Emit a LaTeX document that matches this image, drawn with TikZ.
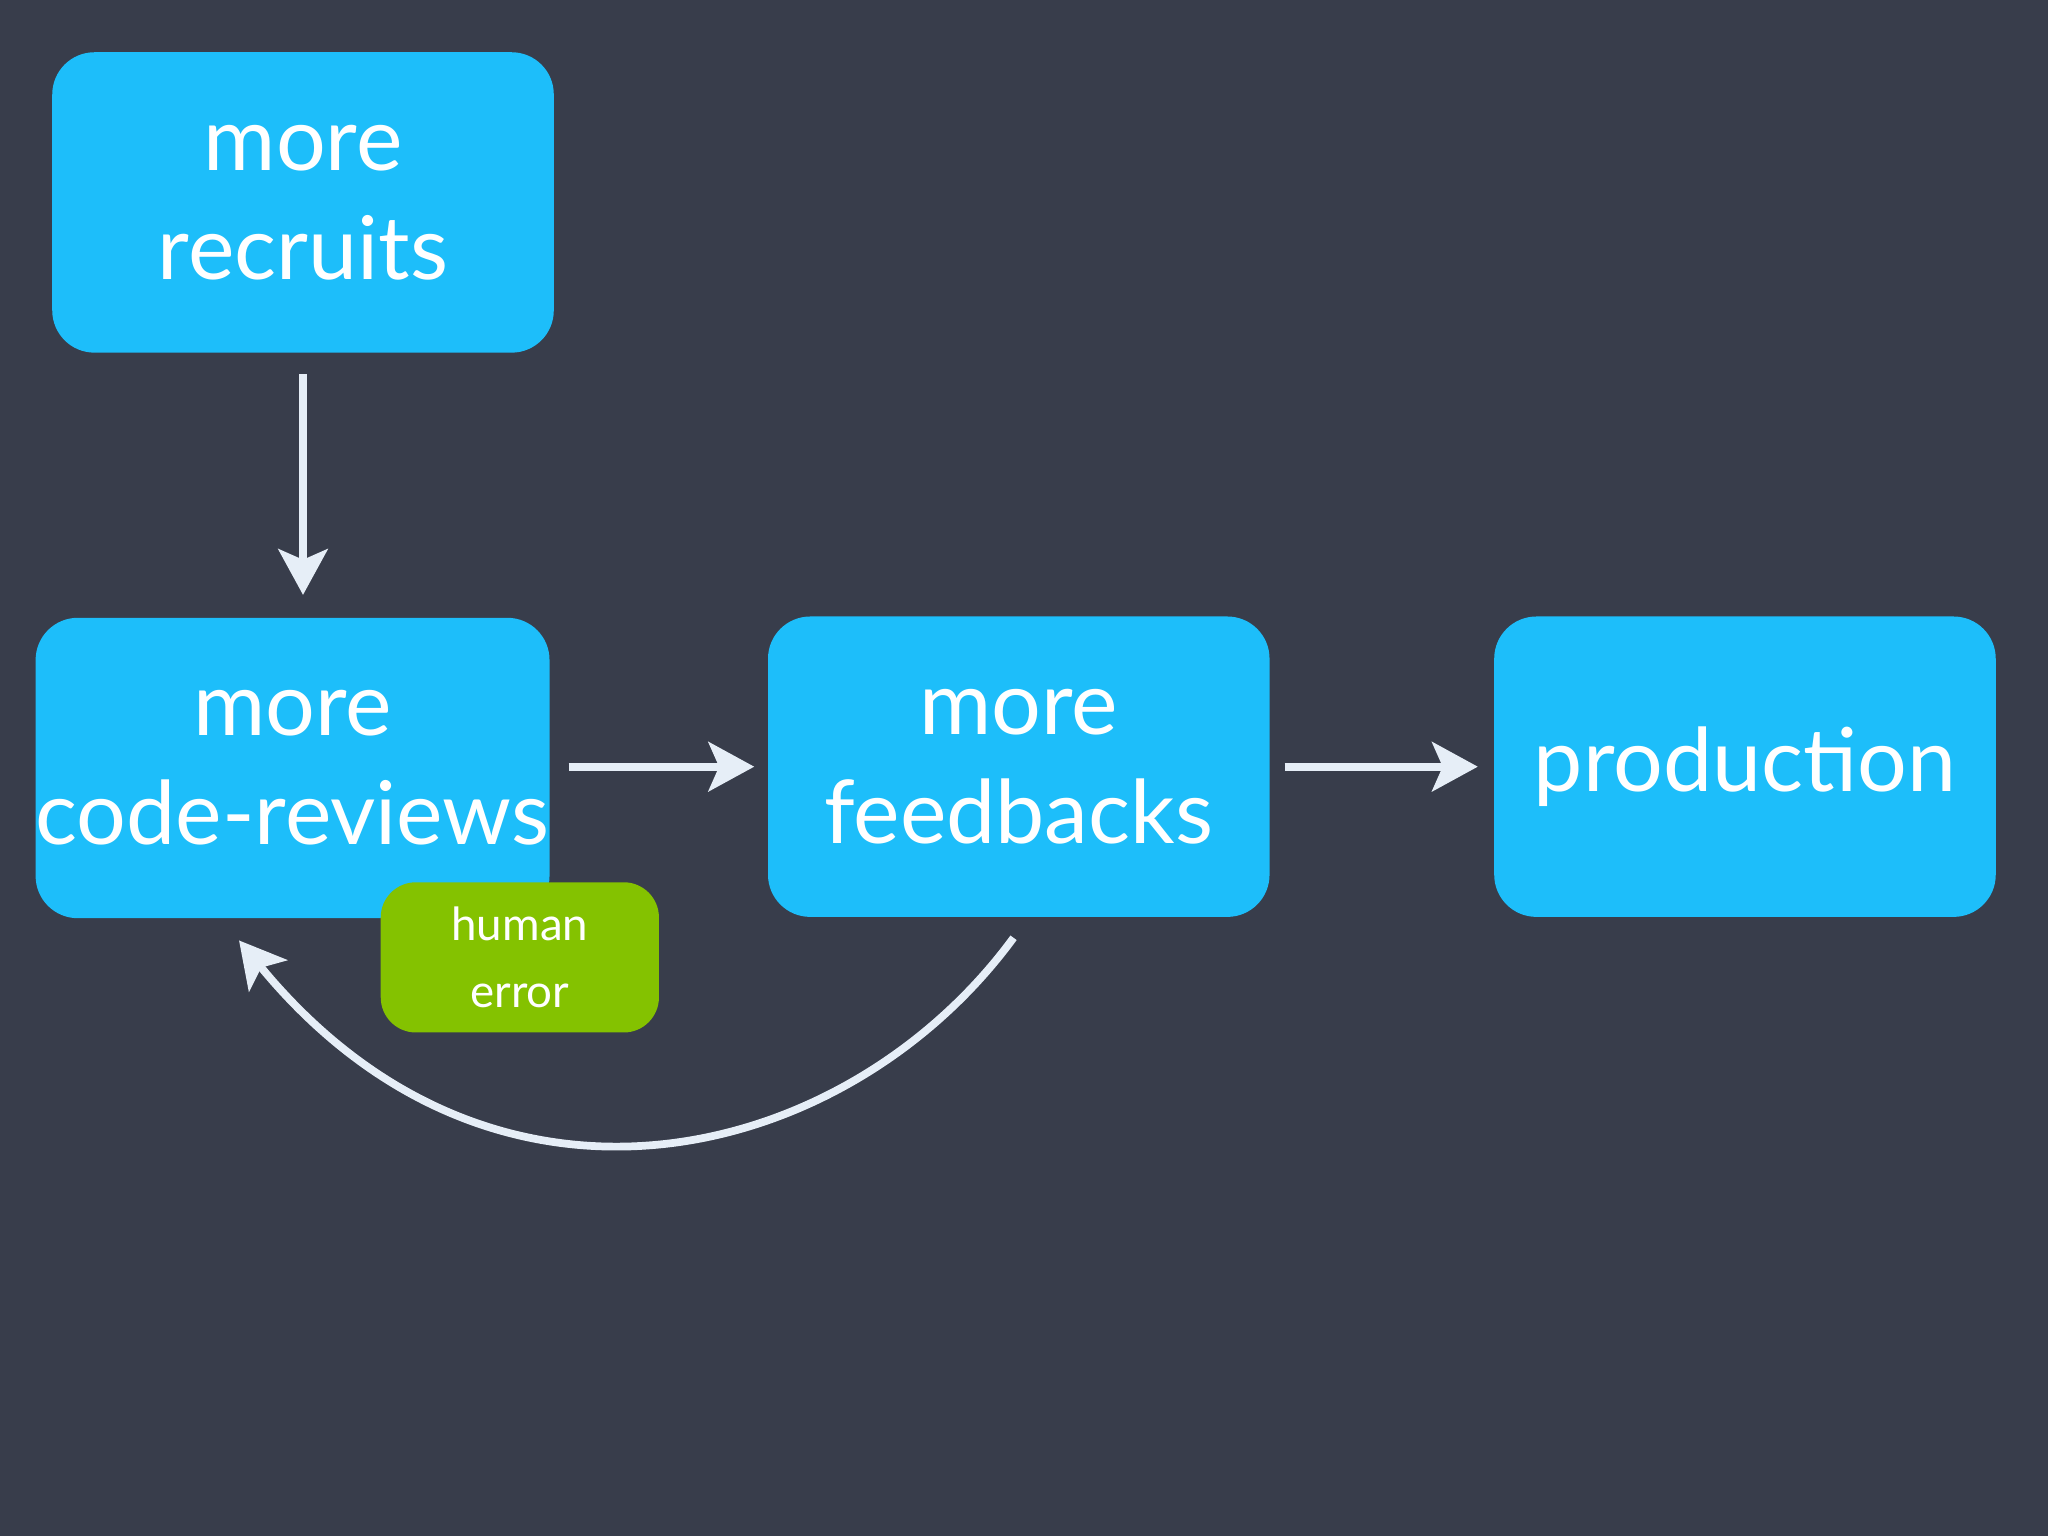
\documentclass[tikz,border=0pt]{standalone}
\usepackage{fontspec}
\setmainfont{Lato}
\usetikzlibrary{arrows.meta}
\definecolor{bg}{HTML}{383D4B}
\definecolor{boxblue}{HTML}{1DBEFA}
\definecolor{boxgreen}{HTML}{84C200}
\definecolor{arr}{HTML}{E6EEF7}
\begin{document}
\begin{tikzpicture}[x=0.013061cm,y=-0.013061cm,
  box/.style={fill=boxblue,rounded corners=12pt,minimum width=384*0.013061cm,minimum height=230*0.013061cm,text=white,align=center,font=\fontsize{25}{31}\selectfont,inner sep=0pt},
  small/.style={fill=boxgreen,rounded corners=10pt,minimum width=213*0.013061cm,minimum height=115*0.013061cm,text=white,align=center,font=\fontsize{13}{19}\selectfont,inner sep=0pt},
  conn/.style={draw=arr,line width=2.2pt,-{Stealth[inset=3pt,length=13pt,width=14pt]}}]
\fill[bg] (0,0) rectangle (1568,1176);
\node[box] (rec) at (232,155) {more\\recruits};
\node[box] (cr) at (224,588) {more\\code-reviews};
\node[box] (fb) at (780,587) {more\\feedbacks};
\node[box] (prod) at (1336,587) {production};
\node[small] (he) at (398,733) {human\\error};
\draw[conn,shorten <=16*0.013061cm,shorten >=17*0.013061cm] (rec.south) -- (rec.south|-cr.north);
\draw[conn,shorten <=14*0.013061cm,shorten >=10*0.013061cm] (cr.east|-fb.center) -- (fb.west|-fb.center);
\draw[conn,shorten <=11*0.013061cm,shorten >=12*0.013061cm] (fb.east) -- (prod.west);
\coordinate (cs) at (776,718);
\coordinate (ce) at (183,720);
\draw[conn] (cs) .. controls (650,890) and (380,960) .. (ce);
\end{tikzpicture}
\end{document}
